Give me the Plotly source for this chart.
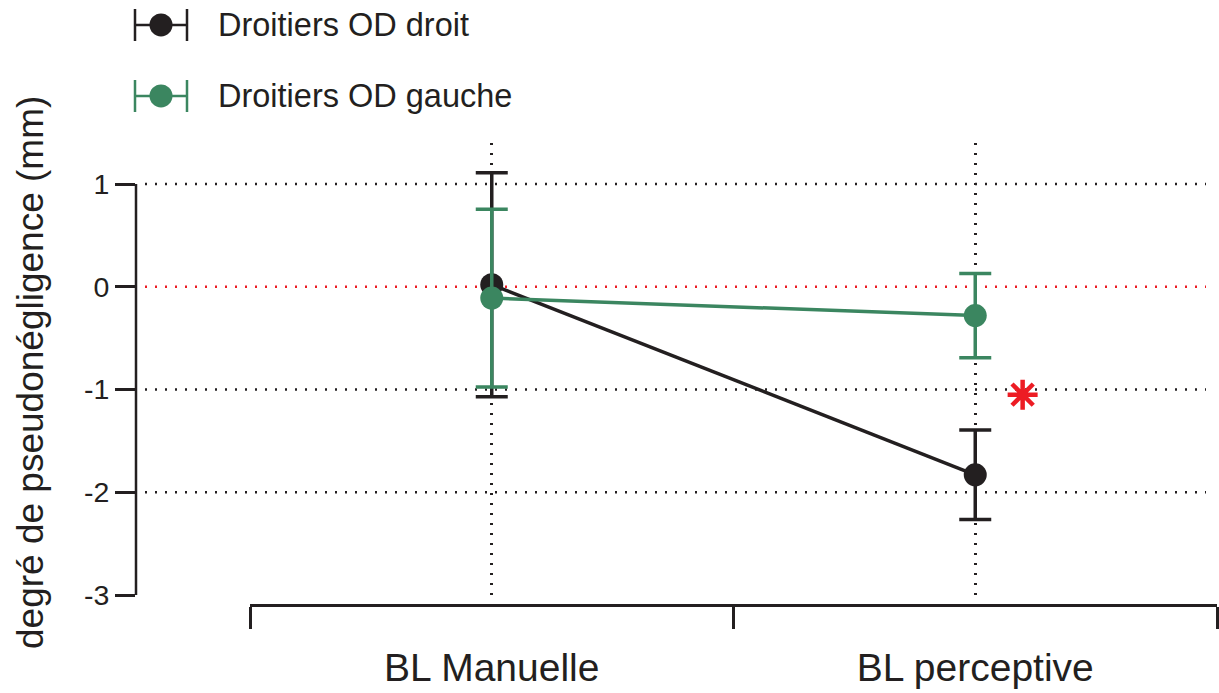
import plotly.graph_objects as go

# ---------------- data ----------------
categories = ["BL Manuelle", "BL perceptive"]
series_names = ["Droitiers OD droit", "Droitiers OD gauche"]
droit_mean = [0.02, -1.83]
droit_err = [1.09, 0.435]
gauche_mean = [-0.11, -0.28]
gauche_err = [0.865, 0.41]
y_ticks = [-3, -2, -1, 0, 1]
sig_index = 1          # category with significant difference
sig_y = -1.05          # height of the significance star

# ---------------- layout helpers ----------------
W, H = 1219, 693


def px_x(p):
    return p / W


def px_y(p):
    return 1 - p / H


INK = "#231f20"
colors = [INK, "#3b8660"]
RED = "#ed1c24"
FONT = "Liberation Sans, Arial, sans-serif"
DOTS = "2px,8px"

xs = list(range(len(categories)))
bounds = [i - 0.5 for i in range(len(categories) + 1)]

fig = go.Figure()

# data series
for name, m, e, c in zip(series_names, [droit_mean, gauche_mean],
                         [droit_err, gauche_err], colors):
    fig.add_trace(go.Scatter(
        x=xs, y=m, mode="lines+markers", name=name,
        line=dict(color=c, width=3.5),
        marker=dict(color=c, size=23),
        error_y=dict(type="data", array=e, visible=True, color=c,
                     thickness=3.5, width=16),
        showlegend=False, xaxis="x", yaxis="y", cliponaxis=False))

# significance star
fig.add_trace(go.Scatter(
    x=[sig_index + 0.098], y=[sig_y], mode="markers",
    marker=dict(symbol="asterisk-open", size=25, color=RED,
                line=dict(color=RED, width=4.5)),
    showlegend=False, hoverinfo="skip", xaxis="x", yaxis="y"))

# dummy trace so the category bracket axis is drawn
fig.add_trace(go.Scatter(x=xs, y=[None] * len(xs), xaxis="x2", yaxis="y",
                         showlegend=False, hoverinfo="skip"))

# hand-made legend (key = point with horizontal error bar)
for i, (name, c) in enumerate(zip(series_names, colors)):
    fig.add_trace(go.Scatter(
        x=[0], y=[i], mode="markers",
        marker=dict(color=c, size=23),
        error_x=dict(type="constant", value=26, color=c, thickness=2.5,
                     width=16),
        xaxis="x3", yaxis="y3", showlegend=False, hoverinfo="skip"))
    fig.add_annotation(xref="x3", yref="y3", x=55, y=i, text=name,
                       xanchor="left", yanchor="middle", showarrow=False,
                       font=dict(size=32.5, color=INK, family=FONT))

# grid lines (dotted), zero line red
shapes = []
for v in y_ticks[1:]:
    shapes.append(dict(type="line", xref="paper", yref="y",
                       x0=px_x(145), x1=px_x(1206), y0=v, y1=v,
                       line=dict(color=RED if v == 0 else INK, width=2.7,
                                 dash=DOTS),
                       layer="below"))
# y axis line from lowest to highest tick
shapes.append(dict(type="line", xref="paper", yref="y",
                   x0=px_x(136), x1=px_x(136),
                   y0=min(y_ticks), y1=max(y_ticks),
                   line=dict(color=INK, width=2.5)))

fig.update_layout(
    width=W, height=H,
    margin=dict(l=0, r=0, t=0, b=0),
    paper_bgcolor="white", plot_bgcolor="rgba(0,0,0,0)",
    font=dict(family=FONT, color=INK),
    shapes=shapes,
    xaxis=dict(domain=[px_x(136), px_x(1217)], range=[-0.7358, 1.5],
               tickvals=xs, showticklabels=False, ticks="",
               showgrid=True, gridcolor=INK, griddash=DOTS, gridwidth=2.5,
               zeroline=False, showline=False, anchor="y",
               automargin=False),
    yaxis=dict(domain=[px_y(600), px_y(143)], range=[-3.0487, 1.399],
               tickvals=y_ticks, ticktext=[str(v) for v in y_ticks],
               ticks="outside", ticklen=20, tickwidth=2.5, tickcolor=INK,
               tickfont=dict(size=28.5, color=INK),
               showgrid=False, zeroline=False, showline=False,
               anchor="x", automargin=False),
    xaxis2=dict(domain=[px_x(250), px_x(1217)], range=[bounds[0], bounds[-1]],
                anchor="free", position=px_y(605),
                tickvals=xs, ticktext=categories, ticks="",
                tickfont=dict(size=39, color=INK),
                ticklabelstandoff=27,
                showline=True, linewidth=2.5, linecolor=INK,
                showgrid=False, zeroline=False, automargin=False,
                minor=dict(tickvals=bounds, ticks="outside", ticklen=22,
                           tickwidth=2.5, tickcolor=INK, showgrid=False)),
    xaxis3=dict(domain=[px_x(100), px_x(600)], range=[-61, 439],
                visible=False, anchor="y3", automargin=False),
    yaxis3=dict(domain=[px_y(130), px_y(0)], range=[1.479, -0.352],
                visible=False, anchor="x3", automargin=False),
    annotations=list(fig.layout.annotations) + [
        dict(xref="paper", yref="paper", x=px_x(31), y=px_y(373),
             text="degré de pseudonégligence (mm)", textangle=-90,
             showarrow=False, xanchor="center", yanchor="middle",
             font=dict(size=37, color=INK, family=FONT))
    ],
)

fig.write_html(
    "out.html",
    config={"displayModeBar": False},
    post_script="document.body.style.margin='0';",
)
